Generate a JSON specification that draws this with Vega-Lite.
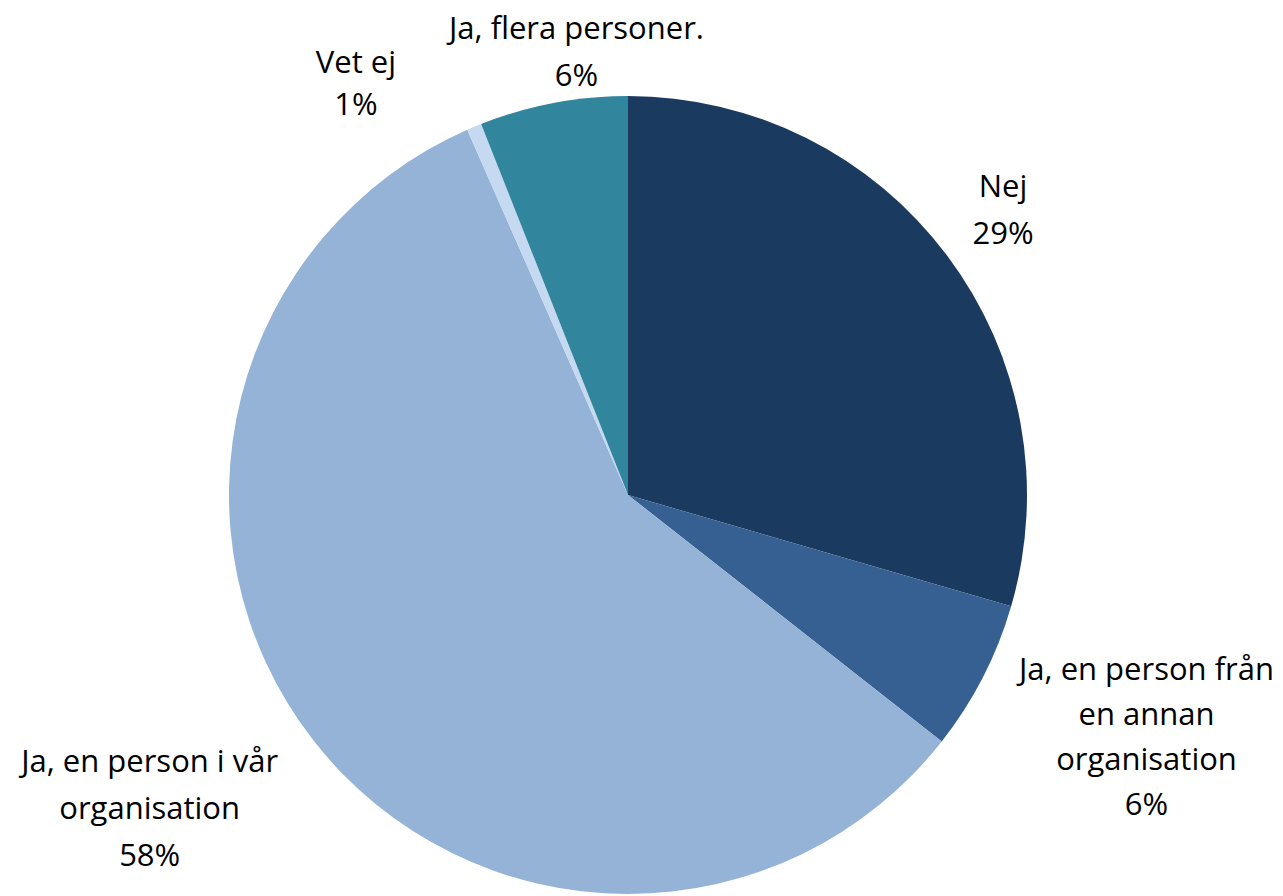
{
  "$schema": "https://vega.github.io/schema/vega-lite/v6.json",
  "width": 1256,
  "height": 792,
  "autosize": "none",
  "padding": {"left": 0, "top": 99, "right": 27, "bottom": 5},
  "background": "white",
  "config": {"view": {"stroke": null}},
  "data": {"values": [
    {"category": "Nej", "value": 29.5, "order": 1, "label": "Nej\n29%"},
    {"category": "Ja, en person från en annan organisation", "value": 6.1, "order": 2, "label": "Ja, en person från\nen annan\norganisation\n6%"},
    {"category": "Ja, en person i vår organisation", "value": 57.8, "order": 3, "label": "Ja, en person i vår\norganisation\n58%"},
    {"category": "Vet ej", "value": 0.6, "order": 4, "label": "Vet ej\n1%"},
    {"category": "Ja, flera personer.", "value": 6.0, "order": 5, "label": "Ja, flera personer.\n6%"}
  ]},
  "encoding": {
    "theta": {"field": "value", "type": "quantitative", "stack": true},
    "order": {"field": "order", "type": "quantitative"}
  },
  "layer": [
    {
      "mark": {"type": "arc", "outerRadius": 399},
      "encoding": {
        "color": {
          "field": "category", "type": "nominal", "legend": null,
          "scale": {
            "domain": ["Nej", "Ja, en person från en annan organisation", "Ja, en person i vår organisation", "Vet ej", "Ja, flera personer."],
            "range": ["#1b3a5f", "#376092", "#95b3d7", "#c5d9f1", "#31859c"]
          }
        }
      }
    },
    {
      "mark": {"type": "text", "radius": 469, "dy": -25, "font": "Open Sans", "fontSize": 31, "lineBreak": "\n", "lineHeight": 47, "align": "center", "baseline": "middle", "color": "black"},
      "encoding": {"text": {"condition": {"test": "datum.order === 1", "field": "label"}, "value": ""}}
    },
    {
      "mark": {"type": "text", "radius": 575, "dx": 7, "dy": -87, "font": "Open Sans", "fontSize": 31, "lineBreak": "\n", "lineHeight": 45, "align": "center", "baseline": "middle", "color": "black"},
      "encoding": {"text": {"condition": {"test": "datum.order === 2", "field": "label"}, "value": ""}}
    },
    {
      "mark": {"type": "text", "radius": 575, "dx": -24, "dy": -84, "font": "Open Sans", "fontSize": 31, "lineBreak": "\n", "lineHeight": 47, "align": "center", "baseline": "middle", "color": "black"},
      "encoding": {"text": {"condition": {"test": "datum.order === 3", "field": "label"}, "value": ""}}
    },
    {
      "mark": {"type": "text", "radius": 441, "dx": -102, "dy": -24, "font": "Open Sans", "fontSize": 31, "lineBreak": "\n", "lineHeight": 42, "align": "center", "baseline": "middle", "color": "black"},
      "encoding": {"text": {"condition": {"test": "datum.order === 4", "field": "label"}, "value": ""}}
    },
    {
      "mark": {"type": "text", "radius": 451, "dx": 33, "dy": -22, "font": "Open Sans", "fontSize": 31, "lineBreak": "\n", "lineHeight": 47, "align": "center", "baseline": "middle", "color": "black"},
      "encoding": {"text": {"condition": {"test": "datum.order === 5", "field": "label"}, "value": ""}}
    }
  ]
}
